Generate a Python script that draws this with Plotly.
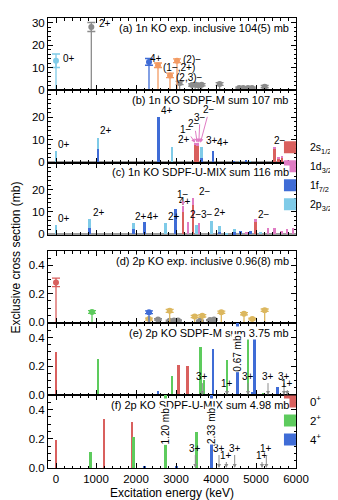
import plotly.graph_objects as go
from plotly.subplots import make_subplots

RED = "#d9605e"
PINK = "#e07cc4"
BLUE = "#3f6cd6"
LBLUE = "#7fcbe8"
GREEN = "#5dcb5d"
GRAY = "#8c8c8c"
ORANGE = "#f39b63"
GOLD = "#dcb75e"

# ---- (a) 1n KO experiment: energy (keV), cross section (mb), error (mb)
a_lb_E, a_lb_v, a_lb_err = [0], [13], [3]
a_gray_E = [883, 3090, 3400, 3480, 3560, 3640, 4090, 4580, 4680, 4800, 4900, 5217]
a_gray_v = [28, 3.1, 2.2, 2.5, 2.0, 2.3, 2.7, 0.9, 0.9, 0.9, 0.9, 1.5]
a_gray_err = [2, 0.7, 0.5, 0.5, 0.5, 0.5, 0.6, 0.4, 0.4, 0.4, 0.4, 0.5]
a_blue_E, a_blue_v, a_blue_err = [2325], [12.5], [1.5]
a_or_E = [2550, 2850, 3025]
a_or_v = [11, 6.5, 13]
a_or_err = [1, 1, 0.8]

# ---- (b) 1n KO SDPF-M, per-orbital contributions (mb)
b_E = [0, 1050, 2567, 2900, 3480, 3535, 3630, 3925, 4450, 4600, 4750, 4850, 5467, 5560, 5650, 5800]
b_s = [0, 0, 0, 0, 7.5, 7.0, 0, 0, 0, 0, 0, 0, 6.0, 1.5, 2.0, 0]
b_d = [0, 0, 0, 0, 1.2, 1.7, 0, 0, 0, 0, 0, 0, 0.8, 0.6, 0.5, 1.0]
b_f = [0, 5.8, 20, 0, 0, 0, 2.0, 5.0, 0.5, 0, 0.8, 0, 0, 0, 0, 0]
b_p = [5, 4.8, 0, 6.5, 0, 0, 4.5, 0, 0, 0.5, 0, 0.6, 0, 0, 0, 0]

# ---- (c) 1n KO SDPF-U-MIX
c_E = [0, 842, 1942, 2217, 2733, 2983, 3175, 3300, 3425, 3508, 3575, 3883, 4092, 4258,
       4467, 4617, 4758, 4867, 4983, 5117, 5300, 5467, 5633, 5775, 5925]
c_s = [0, 0, 0, 0, 0, 0, 10, 0, 13, 0, 0, 0, 0, 0, 0, 0, 0, 0, 5.5, 0, 0, 0, 0, 0, 0]
c_d = [0, 0, 0, 0, 0, 0, 2.7, 5.7, 3.4, 0, 5, 0, 0, 0, 0, 0, 1, 0, 1.5, 0, 3, 3, 1.5, 2.5, 3]
c_f = [0, 2.9, 2.5, 5.5, 0, 11.2, 0, 0, 0, 0, 0, 0, 1, 0, 0.8, 1.5, 0, 1.5, 0, 0, 0, 0, 0, 0, 0]
c_p = [4.2, 3.8, 2.5, 0, 5, 0, 0, 0, 0, 4, 0, 6, 2.5, 0.5, 1.5, 0, 0, 0, 0, 1, 0, 0, 0, 0, 0]

# ---- (d) 2p KO experiment (mb)
d_red_E, d_red_v, d_red_err = [0], [0.28], [0.03]
d_green_E, d_green_v, d_green_err = [900], [0.072], [0.01]
d_blue_E, d_blue_v, d_blue_err = [2325], [0.07], [0.01]
d_gold_E = [2325, 2842, 3467, 3658, 4133, 4700, 4908, 5217]
d_gold_v = [0.022, 0.08, 0.04, 0.045, 0.07, 0.06, 0.022, 0.085]
d_gold_err = [0.007, 0.01, 0.008, 0.008, 0.008, 0.008, 0.006, 0.008]
d_gray_E = [2550, 2842, 2950, 3050, 3600, 3850, 3950]
d_gray_v = [0.02, 0.01, 0.012, 0.012, 0.01, 0.015, 0.02]
d_gray_err = [0.005, 0.004, 0.004, 0.004, 0.004, 0.004, 0.005]

# ---- (e) 2p KO SDPF-M (mb)
e_0_E, e_0_v = [0, 3067, 3283], [0.30, 0.21, 0.20]
e_2_E = [1050, 2900, 3608, 3700, 4275, 4800, 5175]
e_2_v = [0.25, 0.134, 0.33, 0.106, 0.245, 0.40, 0.015]
e_4_E = [2550, 3925, 4533, 4900, 4967, 5533]
e_4_v = [0.03, 0.32, 0.67, 0.02, 0.39, 0.055]
e_arrows = [(3658, "3+"), (4275, "1+"), (4800, "3+"), (5300, "3+"), (5700, "3+"), (5783, "1+")]

# ---- (f) 2p KO SDPF-U-MIX (mb)
f_0_E, f_0_v = [0, 1200, 1900], [0.194, 0.336, 0.315]
f_2_E, f_2_v = [858, 1942, 2742, 3508], [0.107, 0.212, 1.20, 0.245]
f_4_E, f_4_v = [2217, 3008, 3883], [0.01, 0.01, 2.33]
f_arrows = [(3483, "3+"), (4075, "3+"), (4258, "1+"), (4467, "3+"), (5150, "1+"), (5258, "1+")]

titles = ["(a) 1n KO exp. inclusive 104(5) mb", "(b) 1n KO SDPF-M sum 107 mb",
          "(c) 1n KO SDPF-U-MIX sum 116 mb", "(d) 2p KO exp. inclusive 0.96(8) mb",
          "(e) 2p KO SDPF-M sum 3.75 mb", "(f) 2p KO SDPF-U-MIX sum 4.98 mb"]

FONT = "Liberation Sans, Arial, sans-serif"
fig = make_subplots(rows=6, cols=1, shared_xaxes=True, vertical_spacing=0)


def exp_points(row, E, v, err, color, size=6):
    xs, ys = [], []
    for e, val in zip(E, v):
        xs += [e, e, None]
        ys += [0, val, None]
    fig.add_trace(go.Scatter(x=xs, y=ys, mode="lines", line=dict(color=color, width=1.3),
                             showlegend=False, hoverinfo="skip"), row=row, col=1)
    fig.add_trace(go.Scatter(x=E, y=v, mode="markers", marker=dict(color=color, size=size),
                             error_y=dict(type="data", array=err, color=color, thickness=1.3, width=4),
                             showlegend=False), row=row, col=1)


def orbital_bars(row, E, comps, show):
    names = ["2s<sub>1/2</sub>", "1d<sub>3/2</sub>", "1f<sub>7/2</sub>", "2p<sub>3/2</sub>"]
    for name, color, vals in zip(names, [RED, PINK, BLUE, LBLUE], comps):
        fig.add_trace(go.Bar(x=E, y=vals, width=65, marker_color=color, marker_line_width=0,
                             name=name, legend="legend", showlegend=show), row=row, col=1)


def jpi_bars(row, groups, show):
    names = ["0<sup>+</sup>", "2<sup>+</sup>", "4<sup>+</sup>"]
    for name, color, (E, v) in zip(names, [RED, GREEN, BLUE], groups):
        fig.add_trace(go.Bar(x=E, y=v, width=65, marker_color=color, marker_line_width=0,
                             name=name, legend="legend2", showlegend=show), row=row, col=1)


exp_points(1, a_lb_E, a_lb_v, a_lb_err, LBLUE)
exp_points(1, a_gray_E, a_gray_v, a_gray_err, GRAY)
exp_points(1, a_blue_E, a_blue_v, a_blue_err, BLUE)
exp_points(1, a_or_E, a_or_v, a_or_err, ORANGE)

orbital_bars(2, b_E, [b_s, b_d, b_f, b_p], True)
orbital_bars(3, c_E, [c_s, c_d, c_f, c_p], False)

exp_points(4, d_gray_E, d_gray_v, d_gray_err, GRAY)
exp_points(4, d_gold_E, d_gold_v, d_gold_err, GOLD)
exp_points(4, d_red_E, d_red_v, d_red_err, RED)
exp_points(4, d_green_E, d_green_v, d_green_err, GREEN)
exp_points(4, d_blue_E, d_blue_v, d_blue_err, BLUE)

jpi_bars(5, [(e_0_E, e_0_v), (e_2_E, e_2_v), (e_4_E, e_4_v)], True)
jpi_bars(6, [(f_0_E, f_0_v), (f_2_E, f_2_v), (f_4_E, f_4_v)], False)

# panel layout (paper fractions)
domains = [(0.84, 1.0), (0.678, 0.84), (0.518, 0.678), (0.322, 0.482), (0.162, 0.322), (0.0, 0.162)]
ranges = [[0, 32], [-0.35, 32], [-0.35, 32], [-0.006, 0.5], [0, 0.5], [0, 0.5]]
for i, dom in enumerate(domains, start=1):
    big = i <= 3
    fig.update_yaxes(
        row=i, col=1, domain=list(dom), range=ranges[i - 1],
        tickvals=([0, 10, 20, 30] if i == 1 else [0, 10, 20]) if big else [0, 0.2, 0.4],
        ticktext=None if big else ["0.0", "0.2", "0.4"],
        minor=dict(dtick=2 if big else 0.05, ticks="inside", ticklen=2.5, tickcolor="black"),
        ticks="inside", ticklen=5, tickcolor="black", showline=True, linecolor="black",
        linewidth=1, mirror="ticks", showgrid=False,
        zeroline=i in (2, 3, 4), zerolinecolor="#9a9a9a", zerolinewidth=2.5,
        tickfont=dict(size=11.5, color="black"),
    )
    fig.update_xaxes(
        row=i, col=1, range=[-200, 6000], dtick=1000, tick0=0,
        minor=dict(dtick=200, ticks="inside", ticklen=2.5, tickcolor="black"),
        ticks="inside", ticklen=5, tickcolor="black", showline=True, linecolor="black",
        linewidth=1, mirror="ticks", showgrid=False, zeroline=False,
        tickfont=dict(size=11.5, color="black"),
    )
fig.update_xaxes(row=6, col=1, showticklabels=True,
                 title=dict(text="Excitation energy (keV)", font=dict(size=12, color="black"), standoff=4))

ann = []
for i, t in enumerate(titles, start=1):
    s = "" if i == 1 else str(i)
    ann.append(dict(text=t, xref=f"x{s} domain", yref=f"y{s} domain", x=0.975, y=0.965,
                    xanchor="right", yanchor="top", showarrow=False, bgcolor="white",
                    borderpad=0, font=dict(size=11)))

# state labels (row, x, y, text)
labels = [
    (1, 117, 14, "0+"), (1, 1033, 29.5, "2+"), (1, 2300, 14, "4+"), (1, 2630, 9.8, "(1−,2+)"),
    (1, 2960, 5.4, "(2,3)−"), (1, 3125, 13.6, "(2)−"),
    (2, 8, 8, "0+"), (2, 1060, 14, "2+"), (2, 2575, 22.7, "4+"), (2, 3010, 10.1, "2+"),
    (2, 3700, 9.7, "3+"), (2, 3980, 8.7, "4+"), (2, 5400, 9.7, "2−"),
    (3, 0, 6.8, "0+"), (3, 867, 9.8, "2+"), (3, 1925, 8, "2+"), (3, 2217, 8, "4+"),
    (3, 2758, 8, "2+"), (3, 3020, 14.5, "4+"), (3, 3300, 9, "2−"), (3, 3570, 8.6, "3−"),
    (3, 3520, 19.3, "2−"), (3, 3900, 9.5, "2+"), (3, 5000, 9, "2−"),
]
for row, x, y, t in labels:
    s = "" if row == 1 else str(row)
    ann.append(dict(text=t, x=x, y=y, xref=f"x{s}", yref=f"y{s}", xanchor="left",
                    yanchor="middle", showarrow=False, font=dict(size=10)))

# pink pointer labels (row, head x, head y, text x, text y, text)
pointers = [
    (2, 3480, 8.6, 3250, 14.5, "1−"), (2, 3530, 8.6, 3460, 17, "2−"),
    (2, 3570, 8.6, 3600, 19.9, "3−"), (2, 3610, 8.6, 3830, 23.2, "2−"),
    (3, 3175, 12.9, 3175, 17.8, "1−"),
]
for row, hx, hy, tx, ty, t in pointers:
    s = str(row)
    ann.append(dict(text=t, x=hx, y=hy, ax=tx, ay=ty, xref=f"x{s}", yref=f"y{s}",
                    axref=f"x{s}", ayref=f"y{s}", showarrow=True, arrowcolor=PINK,
                    arrowwidth=1, arrowhead=2, arrowsize=0.8, font=dict(size=10)))

# gray arrows for unnatural parity states; label height in pixels
arrow_rise = {(5, 3658): 19, (5, 4275): 12, (5, 4800): 19, (5, 5300): 19, (5, 5700): 19,
              (5, 5783): 12, (6, 3483): 20, (6, 4075): 20, (6, 4258): 13, (6, 4467): 20,
              (6, 5150): 13, (6, 5258): 20}
for row, arrows in [(5, e_arrows), (6, f_arrows)]:
    for x, t in arrows:
        ann.append(dict(text=t, x=x, y=0, xref=f"x{row}", yref=f"y{row}", ax=0,
                        ay=-arrow_rise[(row, x)], showarrow=True, arrowcolor=GRAY,
                        arrowwidth=1, arrowhead=2, arrowsize=0.8, standoff=0, font=dict(size=10)))

# off-scale values
for row, x, t in [(5, 4533, "0.67 mb"), (6, 2742, "1.20 mb"), (6, 3883, "2.33 mb")]:
    ann.append(dict(text=t, x=x, y=0.29, xref=f"x{row}", yref=f"y{row}", textangle=-90,
                    showarrow=False, bgcolor="white", borderpad=0, font=dict(size=10)))

ann.append(dict(text="Exclusive cross section (mb)", xref="paper", yref="paper", x=-0.13, y=0.467,
                xanchor="center", yanchor="middle", textangle=-90, showarrow=False,
                font=dict(size=12)))

fig.update_layout(
    width=338, height=500, margin=dict(l=40, r=50, t=10, b=40, autoexpand=False),
    paper_bgcolor="white", plot_bgcolor="white", barmode="stack", bargap=0,
    font=dict(family=FONT, color="black"),
    annotations=ann,
    legend=dict(x=0.895, y=0.745, xanchor="left", yanchor="top", font=dict(size=10.5),
                traceorder="normal", itemwidth=30, tracegroupgap=0, bgcolor="rgba(0,0,0,0)"),
    legend2=dict(x=0.895, y=0.18, xanchor="left", yanchor="top", font=dict(size=11.5),
                 traceorder="normal", itemwidth=30, tracegroupgap=0, bgcolor="rgba(0,0,0,0)"),
)

fig.write_html("out.html")
